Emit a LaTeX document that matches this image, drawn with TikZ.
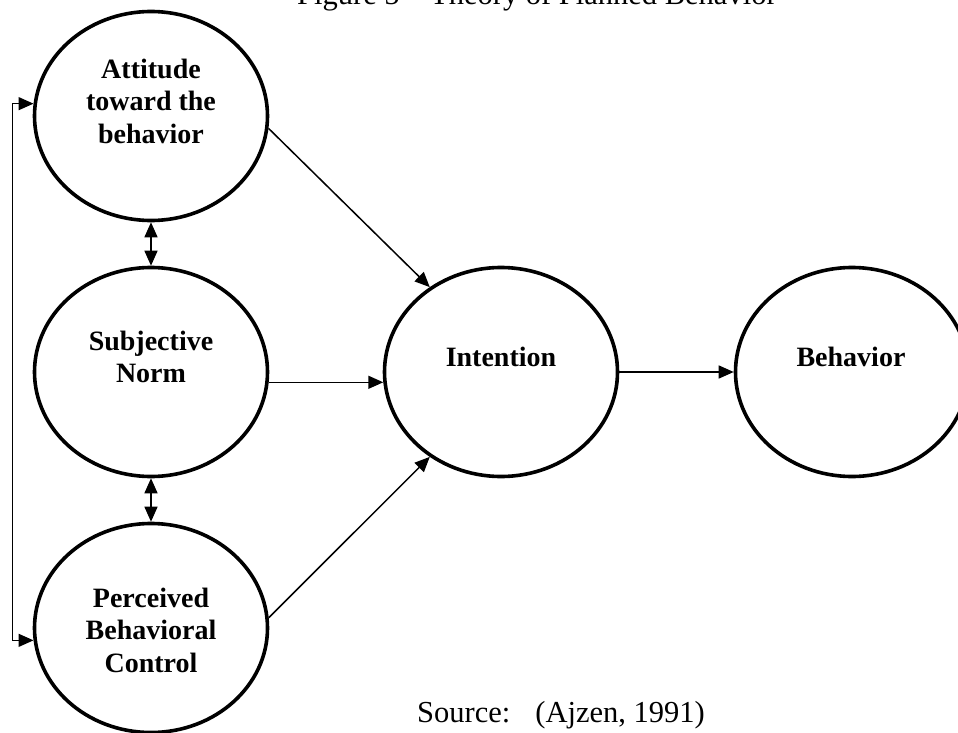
\documentclass[tikz,border=0pt]{standalone}
\usepackage{fontspec}
\setmainfont{Liberation Serif}
\usetikzlibrary{arrows.meta,shapes.geometric}

\tikzset{
  construct/.style={draw=black, line width=3.6pt, ellipse, minimum width=233pt,
    minimum height=209pt, inner sep=0pt},
  caption/.style={font=\fontsize{28}{32.5}\selectfont\bfseries, align=center,
    inner sep=0pt},
  plain/.style={font=\fontsize{30.5}{34}\selectfont, inner sep=0pt},
  link/.style={draw=black, line width=1.5pt,
    -{Triangle[length=15pt,width=13pt]}},
  twoway/.style={draw=black, line width=1.5pt,
    {Triangle[length=15pt,width=13pt]}-{Triangle[length=15pt,width=13pt]}}
}

\begin{document}
\begin{tikzpicture}[x=1pt, y=-1pt]
  \useasboundingbox (0,0) rectangle (958,733);

  % title and source line
  \node[plain, anchor=base west] (title) at (297,5)
    {Figure 5 -- Theory of Planned Behavior};
  \node[plain, anchor=base west] (source) at (417,722)
    {Source:\hspace{25pt}(Ajzen, 1991)};

  % the five constructs
  \node[construct] (att)  at (151,116) {};
  \node[construct] (subj) at (151,372) {};
  \node[construct] (pbc)  at (151,628) {};
  \node[construct] (int)  at (501,372) {};
  \node[construct] (beh)  at (852,372) {};

  \node[caption] (att-t)  at (151,101) {Attitude\\toward the\\behavior};
  \node[caption] (subj-t) at (151,357) {Subjective\\Norm};
  \node[caption] (pbc-t)  at (151,630) {Perceived\\Behavioral\\Control};
  \node[caption] (int-t)  at (501,357) {Intention};
  \node[caption] (beh-t)  at (851,357) {Behavior};

  % correlations among the antecedents
  \draw[twoway] (att.south) -- (subj.north);
  \draw[twoway] (subj.south) -- (pbc.north);
  \draw[twoway] (att.174.6) -- ++(-21,0) |- (pbc.186.8);

  % paths to intention and behavior
  \draw[link] (att.-6.8) -- (int.130.5);
  \draw[link] (subj.-5.8) -- (int.185.9);
  \draw[link] (pbc.5.4) -- (int.230);
  \draw[link] (int.east) -- (beh.west);
\end{tikzpicture}
\end{document}
